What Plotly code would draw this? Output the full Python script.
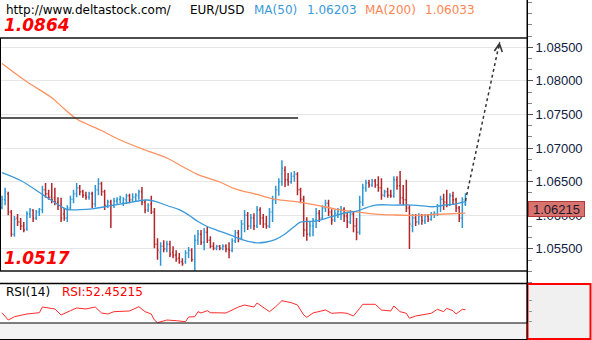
import plotly.graph_objects as go

# ---------------- data ----------------
open_ = [
    1.0612, 1.0623, 1.0632, 1.0605, 1.0572, 1.0596, 1.0590, 1.0584, 1.0580, 1.0602,
    1.0608, 1.0596, 1.0605, 1.0608, 1.0638, 1.0632, 1.0627, 1.0626, 1.0620, 1.0614,
    1.0602, 1.0596, 1.0611, 1.0624, 1.0632, 1.0641, 1.0635, 1.0630, 1.0627, 1.0632,
    1.0617, 1.0638, 1.0647, 1.0635, 1.0615, 1.0620, 1.0615, 1.0621, 1.0624, 1.0618,
    1.0623, 1.0629, 1.0623, 1.0627, 1.0629, 1.0635, 1.0620, 1.0608, 1.0617, 1.0605,
    1.0557, 1.0545, 1.0554, 1.0550, 1.0557, 1.0545, 1.0541, 1.0536, 1.0531, 1.0531,
    1.0544, 1.0548, 1.0534, 1.0563, 1.0572, 1.0560, 1.0575, 1.0563, 1.0554, 1.0551,
    1.0554, 1.0551, 1.0554, 1.0550, 1.0548, 1.0562, 1.0574, 1.0566, 1.0587, 1.0600,
    1.0584, 1.0596, 1.0584, 1.0608, 1.0596, 1.0587, 1.0584, 1.0605, 1.0623, 1.0638,
    1.0650, 1.0667, 1.0653, 1.0650, 1.0658, 1.0661, 1.0638, 1.0624, 1.0578, 1.0572,
    1.0584, 1.0593, 1.0603, 1.0596, 1.0611, 1.0618, 1.0605, 1.0593, 1.0603, 1.0606,
    1.0609, 1.0599, 1.0590, 1.0602, 1.0584, 1.0575, 1.0620, 1.0641, 1.0648, 1.0645,
    1.0651, 1.0645, 1.0641, 1.0630, 1.0635, 1.0630, 1.0629, 1.0653, 1.0644, 1.0626,
    1.0623, 1.0611, 1.0584, 1.0596, 1.0590, 1.0599, 1.0592, 1.0599, 1.0594, 1.0602,
    1.0602, 1.0614, 1.0624, 1.0620, 1.0615, 1.0629, 1.0623, 1.0611, 1.0596, 1.0617,
]
high_ = [
    1.0629, 1.0641, 1.0635, 1.0608, 1.0599, 1.0602, 1.0596, 1.0590, 1.0606, 1.0611,
    1.0609, 1.0608, 1.0611, 1.0644, 1.0648, 1.0638, 1.0648, 1.0641, 1.0627, 1.0626,
    1.0611, 1.0615, 1.0629, 1.0638, 1.0648, 1.0645, 1.0638, 1.0635, 1.0635, 1.0635,
    1.0645, 1.0655, 1.0650, 1.0638, 1.0623, 1.0623, 1.0626, 1.0627, 1.0629, 1.0627,
    1.0632, 1.0632, 1.0633, 1.0633, 1.0638, 1.0642, 1.0623, 1.0618, 1.0629, 1.0611,
    1.0566, 1.0560, 1.0563, 1.0562, 1.0562, 1.0554, 1.0548, 1.0544, 1.0536, 1.0548,
    1.0553, 1.0551, 1.0571, 1.0578, 1.0578, 1.0581, 1.0583, 1.0569, 1.0560, 1.0556,
    1.0556, 1.0557, 1.0557, 1.0560, 1.0566, 1.0578, 1.0578, 1.0593, 1.0608, 1.0605,
    1.0602, 1.0603, 1.0614, 1.0612, 1.0602, 1.0599, 1.0611, 1.0629, 1.0644, 1.0655,
    1.0682, 1.0673, 1.0663, 1.0664, 1.0666, 1.0664, 1.0641, 1.0629, 1.0597, 1.0590,
    1.0596, 1.0611, 1.0608, 1.0615, 1.0623, 1.0623, 1.0609, 1.0608, 1.0611, 1.0614,
    1.0612, 1.0605, 1.0608, 1.0605, 1.0596, 1.0629, 1.0647, 1.0653, 1.0653, 1.0654,
    1.0654, 1.0658, 1.0655, 1.0638, 1.0641, 1.0638, 1.0658, 1.0658, 1.0666, 1.0645,
    1.0653, 1.0615, 1.0602, 1.0602, 1.0603, 1.0602, 1.0602, 1.0602, 1.0605, 1.0606,
    1.0617, 1.0629, 1.0632, 1.0638, 1.0633, 1.0635, 1.0626, 1.0614, 1.0627, 1.0633,
]
low_ = [
    1.0609, 1.0615, 1.0600, 1.0568, 1.0568, 1.0584, 1.0578, 1.0575, 1.0577, 1.0596,
    1.0590, 1.0593, 1.0599, 1.0603, 1.0626, 1.0623, 1.0618, 1.0615, 1.0608, 1.0590,
    1.0592, 1.0590, 1.0608, 1.0618, 1.0627, 1.0630, 1.0626, 1.0623, 1.0623, 1.0611,
    1.0612, 1.0630, 1.0629, 1.0608, 1.0611, 1.0581, 1.0611, 1.0617, 1.0618, 1.0614,
    1.0617, 1.0618, 1.0620, 1.0621, 1.0623, 1.0615, 1.0603, 1.0605, 1.0602, 1.0551,
    1.0534, 1.0525, 1.0545, 1.0545, 1.0538, 1.0536, 1.0531, 1.0528, 1.0525, 1.0528,
    1.0536, 1.0531, 1.0517, 1.0556, 1.0556, 1.0548, 1.0559, 1.0551, 1.0548, 1.0548,
    1.0548, 1.0548, 1.0545, 1.0536, 1.0545, 1.0559, 1.0560, 1.0563, 1.0575, 1.0578,
    1.0580, 1.0578, 1.0581, 1.0586, 1.0581, 1.0580, 1.0581, 1.0590, 1.0617, 1.0629,
    1.0644, 1.0642, 1.0644, 1.0647, 1.0650, 1.0630, 1.0618, 1.0568, 1.0562, 1.0568,
    1.0569, 1.0581, 1.0590, 1.0593, 1.0605, 1.0599, 1.0586, 1.0590, 1.0596, 1.0593,
    1.0590, 1.0581, 1.0587, 1.0575, 1.0563, 1.0571, 1.0614, 1.0635, 1.0641, 1.0642,
    1.0641, 1.0635, 1.0623, 1.0627, 1.0626, 1.0626, 1.0626, 1.0638, 1.0617, 1.0615,
    1.0605, 1.0550, 1.0575, 1.0584, 1.0586, 1.0586, 1.0587, 1.0590, 1.0592, 1.0596,
    1.0599, 1.0605, 1.0608, 1.0612, 1.0614, 1.0617, 1.0605, 1.0590, 1.0581, 1.0614,
]
close_ = [
    1.0624, 1.0635, 1.0605, 1.0572, 1.0594, 1.0590, 1.0584, 1.0578, 1.0602, 1.0608,
    1.0596, 1.0605, 1.0609, 1.0638, 1.0632, 1.0627, 1.0623, 1.0620, 1.0614, 1.0596,
    1.0596, 1.0611, 1.0624, 1.0632, 1.0641, 1.0635, 1.0630, 1.0627, 1.0632, 1.0617,
    1.0638, 1.0647, 1.0635, 1.0615, 1.0620, 1.0615, 1.0621, 1.0624, 1.0626, 1.0624,
    1.0629, 1.0623, 1.0627, 1.0630, 1.0635, 1.0620, 1.0608, 1.0615, 1.0605, 1.0557,
    1.0548, 1.0554, 1.0550, 1.0557, 1.0542, 1.0541, 1.0535, 1.0531, 1.0528, 1.0544,
    1.0548, 1.0534, 1.0563, 1.0572, 1.0560, 1.0575, 1.0563, 1.0554, 1.0551, 1.0554,
    1.0551, 1.0554, 1.0550, 1.0548, 1.0562, 1.0574, 1.0566, 1.0587, 1.0600, 1.0584,
    1.0596, 1.0584, 1.0608, 1.0596, 1.0587, 1.0584, 1.0605, 1.0623, 1.0638, 1.0650,
    1.0670, 1.0653, 1.0650, 1.0658, 1.0661, 1.0638, 1.0624, 1.0578, 1.0572, 1.0584,
    1.0593, 1.0603, 1.0596, 1.0611, 1.0618, 1.0605, 1.0593, 1.0603, 1.0606, 1.0609,
    1.0599, 1.0590, 1.0602, 1.0584, 1.0575, 1.0620, 1.0641, 1.0648, 1.0645, 1.0651,
    1.0645, 1.0641, 1.0630, 1.0635, 1.0630, 1.0629, 1.0653, 1.0644, 1.0626, 1.0623,
    1.0611, 1.0587, 1.0596, 1.0590, 1.0599, 1.0592, 1.0599, 1.0594, 1.0602, 1.0603,
    1.0614, 1.0624, 1.0620, 1.0615, 1.0629, 1.0623, 1.0611, 1.0596, 1.0623, 1.06215,
]

# moving averages, sampled at bar indices
ma50_idx = [0, 6, 13, 16, 19, 21, 25, 29, 35, 41, 46, 49, 53, 57, 60, 63, 66, 69, 72, 75,
            78, 82, 85, 88, 91, 94, 96, 101, 104, 107, 111, 114, 117, 120, 126, 132, 139, 142, 146, 149]
ma50_val = [1.06637, 1.06518, 1.06310, 1.06220, 1.06131, 1.06086, 1.06084, 1.06097, 1.06143, 1.06191,
            1.06228, 1.06213, 1.06146, 1.06084, 1.06005, 1.05908, 1.05834, 1.05781, 1.05732, 1.05677,
            1.05628, 1.05591, 1.05603, 1.05642, 1.05722, 1.05834, 1.05900, 1.05915, 1.05952, 1.05997,
            1.06042, 1.06061, 1.06112, 1.06153, 1.06153, 1.06153, 1.06128, 1.06150, 1.06171, 1.06203]
ma200_idx = [0, 8, 16, 20, 24, 32, 38, 46, 53, 58, 63, 70, 75, 82, 88, 95, 101, 108, 114, 120,
             126, 132, 139, 149]
ma200_val = [1.08259, 1.07987, 1.07749, 1.07585, 1.07433, 1.07262, 1.07121, 1.06972, 1.06853, 1.06726,
             1.06607, 1.06496, 1.06392, 1.06310, 1.06238, 1.06201, 1.06153, 1.06086, 1.06052, 1.06019,
             1.06005, 1.06000, 1.06012, 1.06033]

# RSI(14)
rsi_idx = [0, 2, 4, 8, 12, 13, 17, 19, 22, 24, 27, 30, 32, 34, 36, 41, 44, 46, 48, 49,
           50, 53, 56, 59, 60, 62, 63, 64, 66, 67, 72, 76, 78, 81, 82, 84, 86, 88, 90, 93,
           95, 97, 98, 100, 104, 106, 109, 111, 113, 115, 116, 120, 122, 125, 126, 128, 130, 131, 133, 138,
           140, 142, 143, 145, 146, 148, 149]
rsi_val = [47.0, 33.5, 39.6, 44.6, 47.0, 57.5, 53.9, 42.8, 50.7, 55.7, 53.9, 57.5, 46.5, 44.6, 48.9, 50.2, 58.1, 48.9, 44.6, 33.5,
           28.6, 33.5, 32.3, 30.4, 39.1, 39.6, 48.9, 46.5, 50.7, 47.0, 46.5, 57.5, 61.2, 57.5, 64.9, 57.5, 48.9, 58.1, 69.2, 65.5,
           61.2, 42.8, 38.5, 46.5, 52.0, 45.9, 47.0, 45.9, 40.9, 55.1, 62.5, 62.5, 52.0, 50.2, 59.4, 48.9, 45.9, 36.7, 40.9, 45.9,
           53.3, 48.9, 55.1, 50.7, 44.6, 53.3, 52.45215]

price_ticks = [1.055, 1.060, 1.065, 1.070, 1.075, 1.080, 1.085]

target_level = 1.0864
support_level = 1.0517
resistance_level = 1.0745
resistance_end_idx = 95.2
arrow_target_idx = 160
arrow_target_price = 1.0858

# ---------------- layout geometry ----------------
W, H = 592, 340
plot_right = 527 / W
main_bottom = 57 / H
rsi_bottom, rsi_top = 17 / H, 56 / H
x_range = [-0.643, 168.8]
price_range = [1.04993, 1.09204]

UP, DOWN = "#2f97d4", "#b3262a"
MA50_C, MA200_C = "#3a9ad9", "#ff915e"
HEAD_FONT = "DejaVu Sans"
AXIS_FONT = "Liberation Sans"

bar_idx = list(range(len(close_)))

fig = go.Figure()
fig.add_trace(go.Ohlc(
    x=bar_idx, open=open_, high=high_, low=low_, close=close_,
    increasing=dict(line=dict(color=UP, width=1.5)),
    decreasing=dict(line=dict(color=DOWN, width=1.5)),
    tickwidth=0.35, showlegend=False, hoverinfo="skip",
))
fig.add_trace(go.Scatter(x=ma200_idx, y=ma200_val, mode="lines",
                         line=dict(color=MA200_C, width=1.3, shape="spline"),
                         showlegend=False, hoverinfo="skip"))
fig.add_trace(go.Scatter(x=ma50_idx, y=ma50_val, mode="lines",
                         line=dict(color=MA50_C, width=1.3, shape="spline"),
                         showlegend=False, hoverinfo="skip"))
fig.add_trace(go.Scatter(x=rsi_idx, y=rsi_val, mode="lines", xaxis="x2", yaxis="y2",
                         line=dict(color="#ff2b2b", width=1),
                         showlegend=False, hoverinfo="skip"))

fig.update_layout(
    width=W, height=H, margin=dict(l=0, r=0, t=0, b=0),
    paper_bgcolor="white", plot_bgcolor="white", showlegend=False,
    xaxis=dict(domain=[0, plot_right], range=x_range, visible=False,
               rangeslider=dict(visible=False), showgrid=False, zeroline=False),
    xaxis2=dict(domain=[0, plot_right], range=x_range, visible=False, anchor="y2",
                showgrid=False, zeroline=False),
    yaxis=dict(
        domain=[main_bottom, 1], range=price_range, side="right",
        tickmode="array", tickvals=price_ticks, tickformat=".5f",
        ticks="outside", ticklen=5, tickcolor="#555", tickwidth=1,
        tickfont=dict(family=AXIS_FONT, size=13, color="#0f2142"),
        showgrid=True, gridcolor="#e6e6e6", gridwidth=1,
        showline=True, linecolor="#000", linewidth=1, zeroline=False,
        minor=dict(tickmode="linear", tick0=1.05, dtick=0.005 / 3, ticks="outside",
                   ticklen=4, tickcolor="#888", showgrid=False),
    ),
    yaxis2=dict(
        domain=[rsi_bottom, rsi_top], range=[28, 100], side="right", anchor="x2",
        tickmode="array", tickvals=[30, 50, 70], showticklabels=False,
        ticks="outside", ticklen=4, tickcolor="#999",
        showgrid=False, zeroline=False, showline=True, linecolor="#000", linewidth=1,
    ),
)

shapes = [
    # date strip under the RSI pane
    dict(type="rect", xref="paper", yref="paper", x0=0, x1=plot_right, y0=0, y1=rsi_bottom,
         fillcolor="#f3f3f3", line=dict(width=0), layer="below"),
    # RSI scale box
    dict(type="rect", xref="paper", yref="paper", x0=527.5 / W, x1=590.5 / W, y0=1 / H, y1=56 / H,
         fillcolor="#f0f0f0", line=dict(color="#ff0000", width=2), layer="below"),
    # pane separators
    dict(type="line", xref="paper", yref="paper", x0=0, x1=plot_right, y0=56.5 / H, y1=56.5 / H,
         line=dict(color="#000", width=1.5)),
    dict(type="line", xref="paper", yref="paper", x0=0, x1=plot_right, y0=rsi_bottom, y1=rsi_bottom,
         line=dict(color="#000", width=1)),
    dict(type="line", xref="paper", yref="paper", x0=0, x1=plot_right, y0=0.5 / H, y1=0.5 / H,
         line=dict(color="#000", width=1)),
    dict(type="line", xref="paper", yref="paper", x0=plot_right, x1=plot_right, y0=0, y1=1,
         line=dict(color="#000", width=1)),
    # left edge between the two levels
    dict(type="line", xref="paper", yref="y", x0=0, x1=0, y0=support_level, y1=target_level,
         line=dict(color="#000", width=2)),
    # target / support / resistance levels
    dict(type="line", xref="paper", yref="y", x0=0, x1=plot_right, y0=target_level, y1=target_level,
         line=dict(color="#111", width=1.5)),
    dict(type="line", xref="paper", yref="y", x0=0, x1=plot_right, y0=support_level, y1=support_level,
         line=dict(color="#111", width=1.5)),
    dict(type="line", xref="x", yref="y", x0=x_range[0], x1=resistance_end_idx,
         y0=resistance_level, y1=resistance_level, line=dict(color="#222", width=1.5)),
    # projected move
    dict(type="line", xref="x", yref="y", x0=bar_idx[-1], y0=close_[-1],
         x1=arrow_target_idx, y1=arrow_target_price,
         line=dict(color="#333", width=1.5, dash="dot")),
]
fig.update_layout(shapes=shapes)


def px_x(px):
    return px / W


def px_y(py):
    return 1 - py / H


ann = []
head_y = px_y(10)
for text, x, color in [
    ("http://www.deltastock.com/", 4, "#000"),
    ("EUR/USD", 188, "#000"),
    ("MA(50)", 252, MA50_C),
    (f"{ma50_val[-1]:.5f}", 305, MA50_C),
    ("MA(200)", 363, "#ff8655"),
    (f"{ma200_val[-1]:.5f}", 423, "#ff8655"),
]:
    ann.append(dict(text=text, xref="paper", yref="paper", x=px_x(x), y=head_y,
                    xanchor="left", yanchor="middle", showarrow=False,
                    font=dict(family=HEAD_FONT, size=12, color=color)))

for level in (target_level, support_level):
    ann.append(dict(text=f"{level:.4f}", xref="paper", yref="y", x=px_x(2), y=level,
                    xanchor="left", yanchor="bottom", showarrow=False, yshift=1,
                    font=dict(family=HEAD_FONT, size=17, color="#ff0000",
                              weight="bold", style="italic")))

ann.append(dict(text="RSI(14)", xref="paper", yref="paper", x=px_x(4), y=px_y(292),
                xanchor="left", yanchor="middle", showarrow=False,
                font=dict(family=HEAD_FONT, size=12, color="#000")))
ann.append(dict(text=f"RSI:{rsi_val[-1]:.5f}", xref="paper", yref="paper", x=px_x(60), y=px_y(292),
                xanchor="left", yanchor="middle", showarrow=False,
                font=dict(family=HEAD_FONT, size=12, color="#ff0000")))

# current price tag on the scale
ann.append(dict(text=f"{close_[-1]:.5f}", xref="paper", yref="y", x=527.5 / W, y=close_[-1],
                xanchor="left", yanchor="top", showarrow=False,
                bgcolor="#d8736e", bordercolor="#b03a3a", borderwidth=1, borderpad=0,
                width=55, height=14,
                font=dict(family=AXIS_FONT, size=13, color="#1a1a2e")))

# arrow head of the projected move
ann.append(dict(text="", x=arrow_target_idx, y=arrow_target_price, xref="x", yref="y",
                ax=arrow_target_idx - 0.35, ay=arrow_target_price - 0.0012, axref="x", ayref="y",
                showarrow=True, arrowhead=5, arrowsize=1.3, arrowwidth=1.2, arrowcolor="#333"))

fig.update_layout(annotations=ann)

fig.write_html("out.html")
